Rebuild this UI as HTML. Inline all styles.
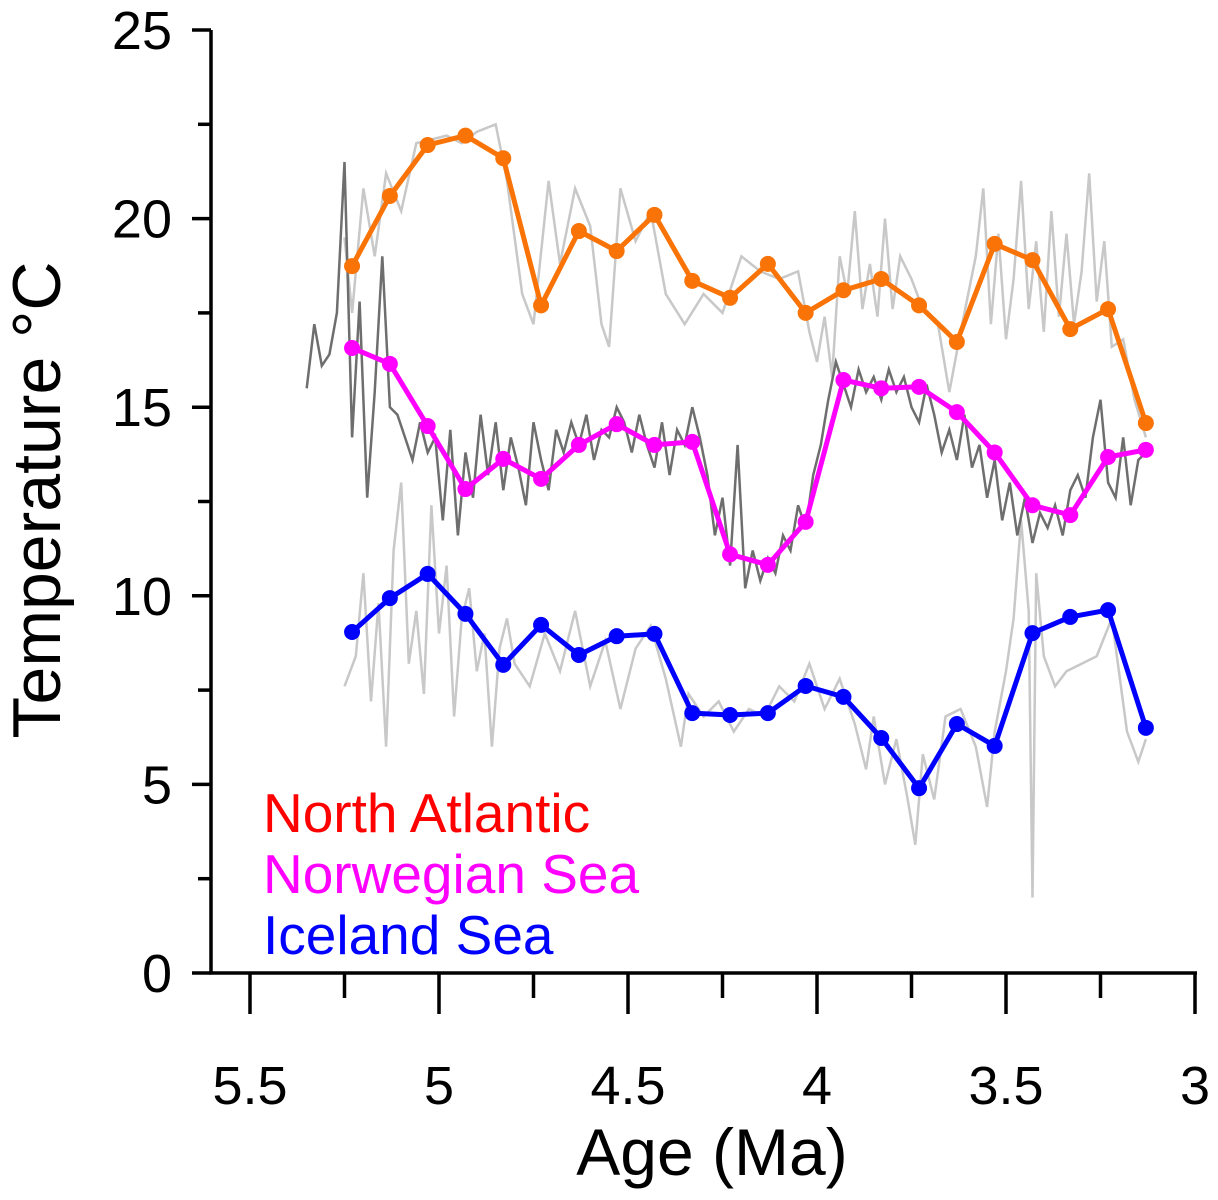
<!DOCTYPE html>
<html><head><meta charset="utf-8"><style>
html,body{margin:0;padding:0;background:#fff;}
svg{display:block;font-family:"Liberation Sans",Arial,sans-serif;}
</style></head><body>
<svg id="chart" width="1218" height="1200" viewBox="0 0 1218 1200" xmlns="http://www.w3.org/2000/svg">
<g id="grey"></g>
<g id="series"></g>
<g id="axes"></g>
<text transform="translate(60,500) rotate(-90)" text-anchor="middle" font-size="68">Temperature °C</text>
<text x="712" y="1175" text-anchor="middle" font-size="66">Age (Ma)</text>
<text x="263" y="832" font-size="55" fill="#ff0000">North Atlantic</text>
<text x="263" y="893" font-size="55" fill="#ff00ff">Norwegian Sea</text>
<text x="263" y="954" font-size="55" fill="#0000ff">Iceland Sea</text>
</svg>
<script>
const ages=[5.23,5.13,5.03,4.93,4.83,4.73,4.63,4.53,4.43,4.33,4.23,4.13,4.03,3.93,3.83,3.73,3.63,3.53,3.43,3.33,3.23,3.13];
const northAtlantic=[18.74,20.6,21.95,22.2,21.6,17.7,19.67,19.14,20.1,18.35,17.9,18.8,17.5,18.1,18.4,17.7,16.73,19.33,18.9,17.07,17.6,14.58];
const norwegianSea=[16.57,16.15,14.5,12.83,13.63,13.1,14.0,14.55,14.0,14.08,11.1,10.82,11.96,15.72,15.5,15.54,14.87,13.8,12.4,12.14,13.68,13.87];
const icelandSea=[9.04,9.94,10.58,9.52,8.17,9.23,8.43,8.93,8.99,6.89,6.84,6.89,7.61,7.32,6.23,4.9,6.6,6.02,9.01,9.44,9.62,6.5];
const darkAges=[5.35,5.33,5.31,5.29,5.27,5.25,5.23,5.21,5.19,5.17,5.15,5.13,5.11,5.09,5.07,5.05,5.03,5.01,4.99,4.97,4.95,4.93,4.91,4.89,4.87,4.85,4.83,4.81,4.79,4.77,4.75,4.73,4.71,4.69,4.67,4.65,4.63,4.61,4.59,4.57,4.55,4.53,4.51,4.49,4.47,4.45,4.43,4.41,4.39,4.37,4.35,4.33,4.31,4.29,4.27,4.25,4.23,4.21,4.19,4.17,4.15,4.13,4.11,4.09,4.07,4.05,4.03,4.01,3.99,3.97,3.95,3.93,3.91,3.89,3.87,3.85,3.83,3.81,3.79,3.77,3.75,3.73,3.71,3.69,3.67,3.65,3.63,3.61,3.59,3.57,3.55,3.53,3.51,3.49,3.47,3.45,3.43,3.41,3.39,3.37,3.35,3.33,3.31,3.29,3.27,3.25,3.23,3.21,3.19,3.17,3.15,3.13];
const darkVals=[15.5,17.2,16.1,16.4,17.5,21.5,14.2,17.8,12.6,15.4,19.0,15.0,14.8,14.2,13.6,14.6,13.8,14.2,12.0,14.4,11.6,13.8,12.6,14.8,13.2,14.6,12.8,14.2,13.4,12.4,14.6,13.6,12.8,14.4,13.8,14.6,14.0,14.8,13.6,14.4,14.2,15.0,14.6,13.8,14.8,14.0,13.4,14.6,13.2,14.4,14.0,15.0,14.2,13.2,11.6,12.6,10.8,14.0,10.2,11.2,10.4,11.0,10.6,11.6,11.2,12.4,11.8,13.2,14.0,15.2,16.2,15.6,15.0,16.0,15.4,15.8,15.2,16.0,15.4,15.8,15.0,14.6,15.6,14.8,13.8,14.4,13.6,14.8,13.4,14.0,12.6,13.6,12.0,13.0,11.6,12.6,11.4,12.2,11.8,12.4,11.6,12.8,13.2,12.6,14.2,15.2,13.0,12.6,14.2,12.4,13.6,13.8];
const upperAges=[5.25,5.23,5.2,5.17,5.14,5.1,5.06,5.02,4.98,4.94,4.9,4.85,4.82,4.78,4.75,4.71,4.68,4.64,4.6,4.57,4.55,4.52,4.48,4.44,4.4,4.35,4.3,4.25,4.2,4.15,4.1,4.05,4.02,4.0,3.98,3.96,3.94,3.92,3.9,3.88,3.86,3.84,3.82,3.8,3.78,3.75,3.72,3.68,3.65,3.62,3.58,3.56,3.54,3.52,3.5,3.48,3.46,3.44,3.42,3.4,3.38,3.36,3.34,3.32,3.3,3.28,3.26,3.24,3.22,3.19,3.16,3.13];
const upperVals=[19.5,17.5,20.8,19.0,21.2,20.2,22.0,22.1,22.2,22.0,22.3,22.5,21.0,18.0,17.2,21.0,18.8,20.8,19.8,17.2,16.6,20.8,19.4,20.2,18.0,17.2,18.0,17.5,19.0,18.6,18.4,18.6,17.0,16.2,17.4,15.8,19.0,18.0,20.2,17.6,18.8,17.4,20.0,17.6,19.0,18.4,17.6,17.2,15.4,17.0,19.0,20.8,17.2,19.6,16.8,18.4,21.0,17.6,19.4,17.0,20.2,17.4,19.6,17.2,18.6,21.2,17.8,19.4,16.6,16.8,15.2,14.2];
const lowerAges=[5.25,5.22,5.2,5.18,5.16,5.14,5.12,5.1,5.08,5.06,5.04,5.02,5.0,4.98,4.96,4.94,4.92,4.9,4.88,4.86,4.84,4.82,4.8,4.76,4.72,4.68,4.64,4.6,4.56,4.52,4.48,4.44,4.4,4.36,4.34,4.3,4.26,4.22,4.18,4.14,4.1,4.06,4.02,3.98,3.94,3.9,3.87,3.85,3.82,3.79,3.76,3.74,3.72,3.69,3.66,3.62,3.58,3.55,3.53,3.5,3.48,3.46,3.44,3.43,3.42,3.4,3.37,3.34,3.3,3.26,3.22,3.18,3.15,3.13];
const lowerVals=[7.6,8.4,10.6,7.2,9.8,6.0,11.2,13.0,8.2,9.6,7.4,12.4,9.0,10.8,6.8,9.4,10.2,8.0,9.0,6.0,8.6,9.4,8.2,7.6,9.0,8.0,9.6,7.6,8.8,7.0,8.6,9.2,7.8,6.0,7.4,6.8,7.2,6.4,7.0,6.8,7.6,7.2,8.2,7.0,7.8,6.6,5.4,6.8,5.0,6.2,4.6,3.4,5.8,4.6,6.8,7.0,6.0,4.4,6.4,8.0,9.4,12.0,9.6,2.0,10.6,8.4,7.6,8.0,8.2,8.4,9.4,6.4,5.6,6.2];
const yTicks=[0,5,10,15,20,25];
const xTicks=[5.5,5,4.5,4,3.5,3];
const xTickLabels=["5.5","5","4.5","4","3.5","3"];

const NS='http://www.w3.org/2000/svg';
function X(a){return 250+(5.5-a)*378;}
function Y(t){return 973-t*37.72;}
function mk(tag,parent,attrs){const e=document.createElementNS(NS,tag);for(const k in attrs)e.setAttribute(k,attrs[k]);parent.appendChild(e);return e;}
const grey=document.getElementById('grey'),series=document.getElementById('series'),axes=document.getElementById('axes');
function path(xs,ys){return xs.map((a,i)=>(i?'L':'M')+X(a).toFixed(1)+' '+Y(ys[i]).toFixed(1)).join(' ');}

let p=mk('path',grey,{d:path(upperAges,upperVals),fill:'none',stroke:'#c8c8c8','stroke-width':2.5});


p=mk('path',grey,{d:path(lowerAges,lowerVals),fill:'none',stroke:'#c8c8c8','stroke-width':2.5});


p=mk('path',grey,{d:path(darkAges,darkVals),fill:'none',stroke:'#6e6e6e','stroke-width':2.5});



function drawSeries(vals,color,name){
  const l=mk('path',series,{d:path(ages,vals),fill:'none',stroke:color,'stroke-width':5,'stroke-linejoin':'round'});
  
  
  vals.forEach((v,i)=>{
    const c=mk('circle',series,{cx:X(ages[i]),cy:Y(v),r:8,fill:color});
    
    
  });
}
drawSeries(northAtlantic,'#f97306','north-atlantic');
drawSeries(norwegianSea,'#ff00ff','norwegian-sea');
drawSeries(icelandSea,'#0000ff','iceland-sea');

let a=mk('line',axes,{x1:211,y1:Y(25),x2:211,y2:973,stroke:'#000','stroke-width':3.5});


a=mk('line',axes,{x1:209.5,y1:973,x2:1197,y2:973,stroke:'#000','stroke-width':3.5});


for(let t=0;t<=25.01;t+=2.5){
  const major=Math.abs(t%5)<0.01;
  const tk=mk('line',axes,{x1:major?192:198,y1:Y(t),x2:211,y2:Y(t),stroke:'#000','stroke-width':3.5});
  
  
}
yTicks.forEach(t=>{
  const tx=mk('text',axes,{x:172,y:Y(t)+19,'text-anchor':'end','font-size':54});
  tx.textContent=t;
  
  
});
for(let a2=5.5;a2>=2.99;a2-=0.25){
  const major=Math.abs((a2*2)%1)<0.01;
  const tk=mk('line',axes,{x1:X(a2),y1:973,x2:X(a2),y2:major?1014:998,stroke:'#000','stroke-width':3.5});
  
  
}
xTicks.forEach((t,i)=>{
  const tx=mk('text',axes,{x:X(t),y:1104,'text-anchor':'middle','font-size':54});
  tx.textContent=xTickLabels[i];
  
  
});
</script>
</body></html>
